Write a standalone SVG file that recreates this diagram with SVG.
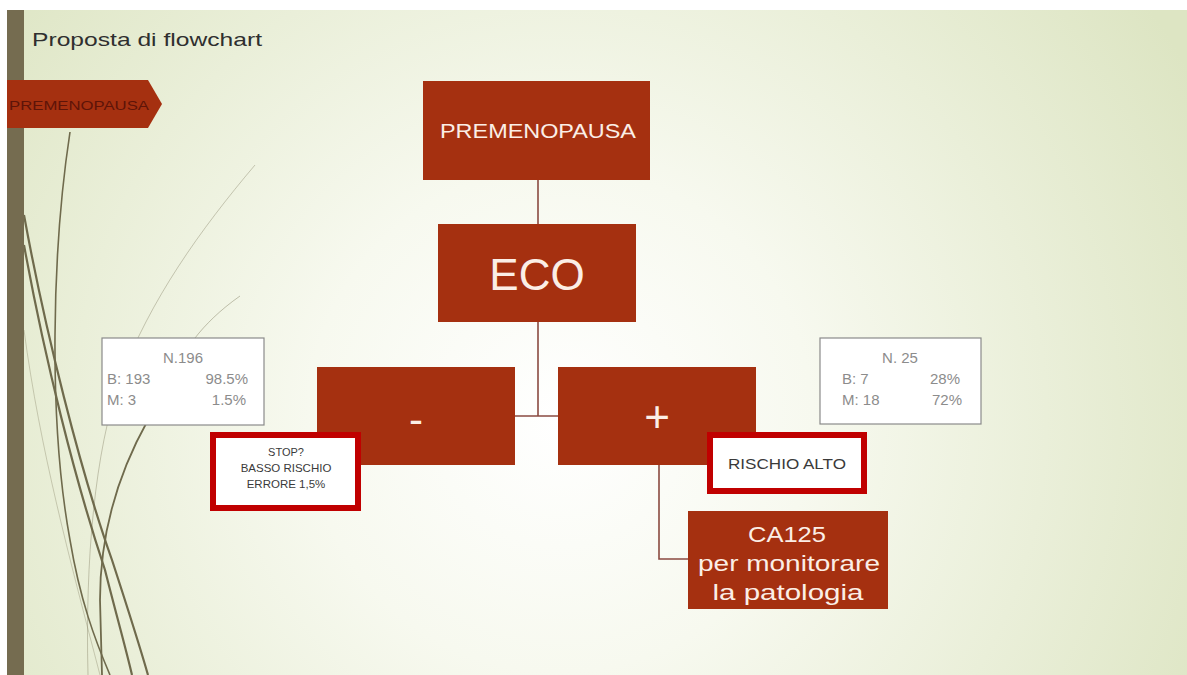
<svg xmlns="http://www.w3.org/2000/svg" width="1187" height="675" viewBox="0 0 1187 675">
<defs>
<radialGradient id="bg" cx="560" cy="420" r="720" gradientUnits="userSpaceOnUse">
<stop offset="0" stop-color="#ffffff"/>
<stop offset="0.35" stop-color="#f7f9ef"/>
<stop offset="1" stop-color="#dde5c3"/>
</radialGradient>
<style>
.box{fill:#a53010;}
.wt{fill:#fbeee6;font-family:"Liberation Sans",Arial,sans-serif;text-anchor:middle;}
.info{fill:#ffffff;stroke:#8a8a8a;stroke-width:1.2;}
.it{fill:#8c8c8c;font-family:"Liberation Sans",Arial,sans-serif;font-size:15px;}
.warn{fill:#ffffff;stroke:#c00000;stroke-width:6;}
.dt{fill:#3a3a3a;font-family:"Liberation Sans",Arial,sans-serif;text-anchor:middle;}
.conn{stroke:#8a4a40;stroke-width:1.6;fill:none;}
.curve{fill:none;stroke:#6f6a4c;}
</style>
</defs>
<rect x="0" y="0" width="1187" height="675" fill="#ffffff"/>
<rect x="7" y="10" width="1180" height="665" fill="url(#bg)"/>
<g id="decor">
<path class="curve" stroke-width="2.2" d="M24 215 C45 330 80 470 112 560 C125 600 138 640 148 675"/>
<path class="curve" stroke-width="2.2" d="M24 245 C45 360 75 480 105 570 C115 610 125 645 132 675"/>
<path class="curve" stroke-width="1.6" d="M70 132 C52 250 48 420 70 540 C80 600 95 640 110 675"/>
<path class="curve" stroke-width="1.8" d="M148 420 C120 470 100 530 100 600 L102 675"/>
<path class="curve" stroke-width="1" opacity="0.35" d="M255 165 C200 230 150 300 120 380 C95 450 85 560 88 675"/>
<path class="curve" stroke-width="1" opacity="0.4" d="M240 296 C220 310 205 325 195 338"/>
<path class="curve" stroke-width="1" opacity="0.3" d="M24 330 C40 450 70 560 100 675"/>
</g>
<rect x="7" y="10" width="17" height="665" fill="#756c50"/>
<text x="32" y="46" font-family="Liberation Sans,Arial,sans-serif" font-size="19" fill="#2f2f2f" textLength="230" lengthAdjust="spacingAndGlyphs">Proposta di flowchart</text>
<g id="tag">
<polygon points="7,80 148,80 162,104 148,128 7,128" fill="#a53010"/>
<text x="9" y="110" font-family="Liberation Sans,Arial,sans-serif" font-size="13" fill="#5e1408" textLength="140" lengthAdjust="spacingAndGlyphs">PREMENOPAUSA</text>
</g>
<g id="connectors">
<line class="conn" x1="538" y1="180" x2="538" y2="224"/>
<line class="conn" x1="538" y1="322" x2="538" y2="416"/>
<line class="conn" x1="515" y1="416" x2="558" y2="416"/>
<polyline class="conn" points="659,465 659,559 688,559"/>
</g>
<g id="premenopausa">
<rect class="box" x="423" y="81" width="227" height="99"/>
<text class="wt" x="538" y="138" font-size="20" textLength="196" lengthAdjust="spacingAndGlyphs">PREMENOPAUSA</text>
</g>
<g id="eco">
<rect class="box" x="438" y="224" width="198" height="98"/>
<text class="wt" x="537" y="290" font-size="44">ECO</text>
</g>
<g id="neg">
<rect class="box" x="317" y="367" width="198" height="98"/>
<text class="wt" x="416" y="434" font-size="42">-</text>
</g>
<g id="pos">
<rect class="box" x="558" y="367" width="198" height="98"/>
<text class="wt" x="657" y="432" font-size="44">+</text>
</g>
<g id="n196">
<rect class="info" x="102" y="338" width="162" height="87"/>
<text class="it" x="183" y="363" text-anchor="middle">N.196</text>
<text class="it" x="107" y="384">B: 193</text>
<text class="it" x="248" y="384" text-anchor="end">98.5%</text>
<text class="it" x="107" y="405">M: 3</text>
<text class="it" x="246" y="405" text-anchor="end">1.5%</text>
</g>
<g id="n25">
<rect class="info" x="820" y="338" width="161" height="86"/>
<text class="it" x="900" y="363" text-anchor="middle">N. 25</text>
<text class="it" x="842" y="384">B: 7</text>
<text class="it" x="960" y="384" text-anchor="end">28%</text>
<text class="it" x="842" y="405">M: 18</text>
<text class="it" x="962" y="405" text-anchor="end">72%</text>
</g>
<g id="stop">
<rect class="warn" x="213" y="435" width="145" height="73"/>
<text class="dt" x="286" y="456" font-size="11">STOP?</text>
<text class="dt" x="286" y="472" font-size="11.5">BASSO RISCHIO</text>
<text class="dt" x="286" y="488" font-size="11.5">ERRORE 1,5%</text>
</g>
<g id="rischio">
<rect class="warn" x="710" y="435" width="154" height="56"/>
<text class="dt" x="787" y="469" font-size="15" textLength="118" lengthAdjust="spacingAndGlyphs">RISCHIO ALTO</text>
</g>
<g id="ca125">
<rect class="box" x="688" y="511" width="200" height="98"/>
<text class="wt" x="787" y="542" font-size="22" textLength="78" lengthAdjust="spacingAndGlyphs">CA125</text>
<text class="wt" x="789" y="571" font-size="22" textLength="182" lengthAdjust="spacingAndGlyphs">per monitorare</text>
<text class="wt" x="788" y="600" font-size="22" textLength="151" lengthAdjust="spacingAndGlyphs">la patologia</text>
</g>
</svg>
